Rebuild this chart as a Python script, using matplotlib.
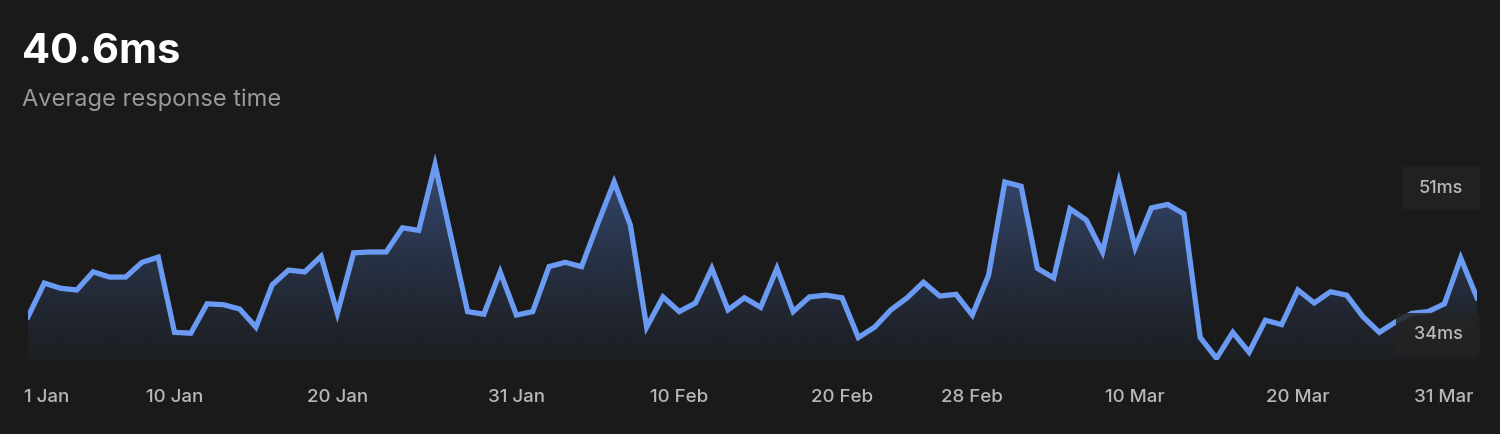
import matplotlib
matplotlib.use("Agg")
import matplotlib.pyplot as plt
import numpy as np
from matplotlib.patches import FancyBboxPatch

plt.rcParams['font.family'] = ['Inter', 'DejaVu Sans']

values = [36.1, 40.0, 39.4, 39.2, 41.3, 40.7, 40.7, 42.4, 43.0, 34.3,
          34.2, 37.6, 37.5, 37.0, 34.9, 39.8, 41.5, 41.3, 43.1, 36.5,
          43.5, 43.6, 43.6, 46.4, 46.1, 53.7, 45.2, 36.7, 36.4, 41.3,
          36.3, 36.7, 41.9, 42.4, 41.9, 46.9, 51.7, 46.7, 34.9, 38.4,
          36.7, 37.7, 41.7, 36.9, 38.3, 37.2, 41.7, 36.7, 38.4, 38.6,
          38.3, 33.7, 34.9, 36.9, 38.3, 40.1, 38.5, 38.7, 36.3, 40.9,
          51.7, 51.2, 41.7, 40.6, 48.6, 47.3, 43.6, 51.7, 44.1, 48.7,
          49.1, 48.0, 33.7, 31.3, 34.3, 32.0, 35.7, 35.2, 39.2, 37.7,
          39.0, 38.6, 36.1, 34.3, 35.5, 36.5, 36.7, 37.6, 42.9, 38.3]
tick_days = [0, 9, 19, 30, 40, 50, 58, 68, 78, 89]
tick_labels = ["1 Jan", "10 Jan", "20 Jan", "31 Jan", "10 Feb", "20 Feb",
               "28 Feb", "10 Mar", "20 Mar", "31 Mar"]
title = "40.6ms"
subtitle = "Average response time"
badges = [("51ms", 51), ("34ms", 34)]

BG = "#1a1a1a"
LINE = "#6a9af2"
fig = plt.figure(figsize=(15, 4.34), dpi=100, facecolor=BG)
ax = fig.add_axes([28/1500, 1-360/434, (1477-28)/1500, 210/434])
ax.set_facecolor(BG)
x = np.arange(len(values))
ymin, ymax = 31.1, 55.4
ax.set_xlim(0, len(values)-1)
ax.set_ylim(ymin, ymax)
ax.axis('off')

# gradient fill
grad = np.linspace(0, 1, 256).reshape(-1, 1)
rgba = np.zeros((256, 1, 4))
c = matplotlib.colors.to_rgb("#5078c8")
rgba[..., 0], rgba[..., 1], rgba[..., 2] = c
rgba[..., 3] = 0.05 + 0.45 * grad[::-1] ** 1.2
rgba = rgba[::-1]
poly = ax.fill_between(x, values, ymin, color='none', lw=0)
img = ax.imshow(rgba, extent=[0, len(values)-1, ymin, max(values)], origin='lower',
                aspect='auto', zorder=1)
img.set_clip_path(poly.get_paths()[0], transform=ax.transData)
ax.plot(x, values, color=LINE, lw=3.8, zorder=3, solid_joinstyle='miter')

# badges
for txt, v in badges:
    yy = ax.transData.transform((0, v))[1] / fig.dpi / 4.34
    w = 0.052 if txt == "51ms" else 0.056
    h = 44/434
    box = FancyBboxPatch((1480/1500 - w, yy - h/2), w, h,
                         boxstyle="round,pad=0,rounding_size=0.006",
                         transform=fig.transFigure, facecolor="#232323",
                         edgecolor='none', alpha=0.85, zorder=5)
    fig.patches.append(box)
    fig.text(1480/1500 - w/2, yy, txt, ha='center', va='center', fontsize=13,
             color="#b8b8b8", fontweight='medium', zorder=6)

# x tick labels
for d, lab in zip(tick_days, tick_labels):
    ha = 'left' if d == tick_days[0] else ('right' if d == tick_days[-1] else 'center')
    xf = ax.transData.transform((d, 0))[0] / 1500
    if ha == 'left':
        xf -= 4/1500
    if ha == 'right':
        xf -= 4/1500
    fig.text(xf, 1-398/434, lab, ha=ha, va='center', fontsize=13.5,
             color="#b8b8b8", fontweight='medium')

fig.text(22/1500, 1-52/434, title, ha='left', va='center', fontsize=30,
         color='white', fontweight='bold')
fig.text(22/1500, 1-100/434, subtitle, ha='left', va='center', fontsize=17,
         color='#9a9a9a')

fig.savefig("out.png", dpi=100, facecolor=BG)
